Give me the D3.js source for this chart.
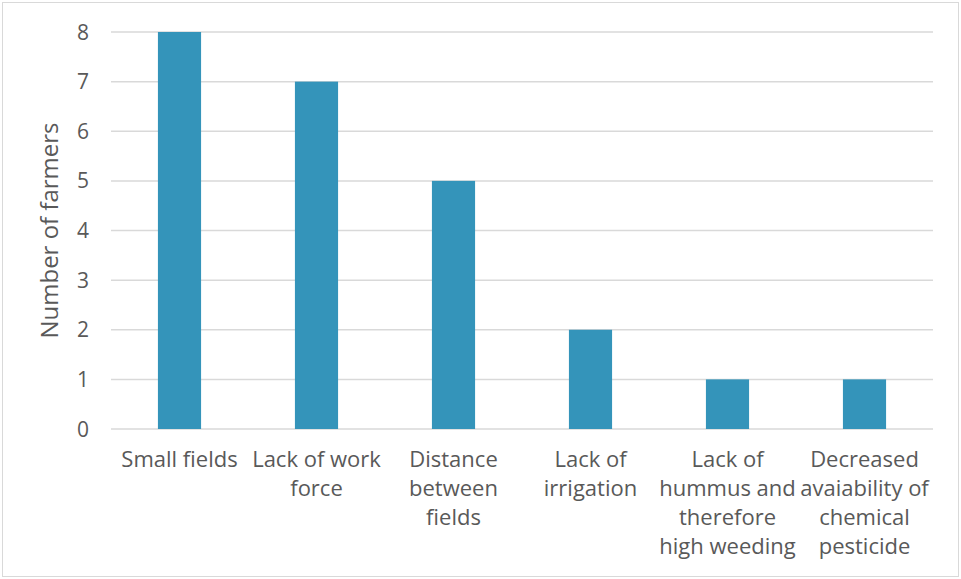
<!DOCTYPE html>
<html>
<head>
<meta charset="utf-8">
<script src="https://cdn.jsdelivr.net/npm/d3@7"></script>
<style>
  body { margin: 0; background: #fff; }
  text { font-family: "Open Sans", "Liberation Sans", sans-serif; fill: #595959; }
</style>
</head>
<body>
<div id="chart"></div>
<script>
// chart data
let categories = [
    ["Small fields"],
    ["Lack of work", "force"],
    ["Distance", "between", "fields"],
    ["Lack of", "irrigation"],
    ["Lack of", "hummus and", "therefore", "high weeding"],
    ["Decreased", "avaiability of", "chemical", "pesticide"]
];
let farmers = [8, 7, 5, 2, 1, 1];
let yTicks = [0, 1, 2, 3, 4, 5, 6, 7, 8];

let W = 961, H = 579;
let margin = {top: 32, right: 28, bottom: 150, left: 111};
let width = W - margin.left - margin.right;
let height = H - margin.top - margin.bottom;

let svg = d3.select("#chart").append("svg")
    .attr("width", W)
    .attr("height", H);

// outer border
svg.append("rect")
    .attr("x", 2.5).attr("y", 2.5)
    .attr("width", W - 5).attr("height", H - 5)
    .attr("fill", "#fff")
    .attr("stroke", "#d9d9d9");

let g = svg.append("g")
    .attr("transform", "translate(" + margin.left + "," + margin.top + ")");

let x = d3.scaleBand()
    .domain(d3.range(categories.length))
    .range([0, width])
    .paddingInner(0.685)
    .paddingOuter(0.3425);

let y = d3.scaleLinear()
    .domain([0, 8])
    .range([height, 0]);

// gridlines
g.selectAll("line.grid")
    .data(yTicks)
    .enter().append("line")
    .attr("class", "grid")
    .attr("x1", 0).attr("x2", width)
    .attr("y1", d => y(d)).attr("y2", d => y(d))
    .attr("stroke", "#d9d9d9")
    .attr("stroke-width", 1.5);

// bars
g.selectAll("rect.bar")
    .data(farmers)
    .enter().append("rect")
    .attr("class", "bar")
    .attr("x", (d, i) => x(i))
    .attr("width", x.bandwidth())
    .attr("y", d => y(d))
    .attr("height", d => height - y(d))
    .attr("fill", "#3494ba");

// y tick labels
g.selectAll("text.ytick")
    .data(yTicks)
    .enter().append("text")
    .attr("class", "ytick")
    .attr("x", -22)
    .attr("y", d => y(d))
    .attr("dy", "0.36em")
    .attr("text-anchor", "end")
    .style("font-size", "21px")
    .text(d => d);

// x category labels
let step = width / categories.length;
let labels = g.selectAll("text.xlab")
    .data(categories)
    .enter().append("text")
    .attr("class", "xlab")
    .attr("text-anchor", "middle")
    .attr("transform", (d, i) => "translate(" + (step * i + step / 2) + "," + (height + 38) + ")")
    .style("font-size", "22px");

labels.selectAll("tspan")
    .data(d => d)
    .enter().append("tspan")
    .attr("x", 0)
    .attr("y", (d, i) => i * 29)
    .text(d => d);

// y axis title
g.append("text")
    .attr("transform", "translate(-53," + (height / 2) + ") rotate(-90)")
    .attr("text-anchor", "middle")
    .style("font-size", "24px")
    .text("Number of farmers");
</script>
</body>
</html>
